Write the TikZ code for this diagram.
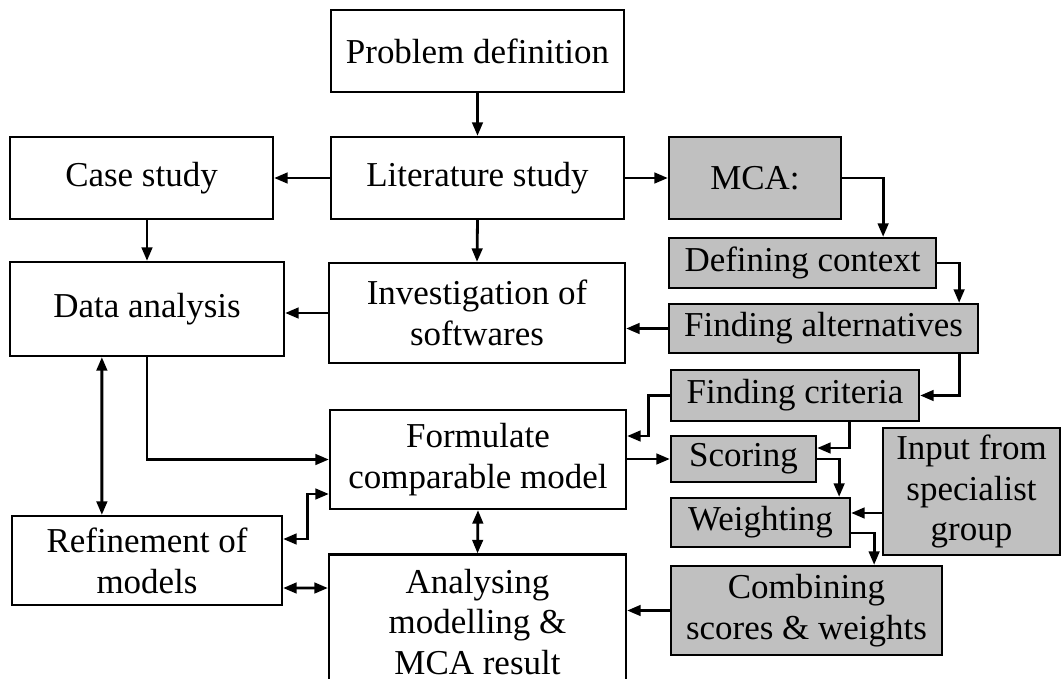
\documentclass[tikz,border=0pt]{standalone}
\usepackage{fontspec}
\setmainfont{Liberation Serif}
\usepackage{xcolor}
\usetikzlibrary{arrows.meta}
\definecolor{boxgrey}{HTML}{C0C0C0}
\tikzset{
  box/.style={draw=black, line width=1.3pt, inner sep=0pt, align=center,
    font=\fontsize{19.9}{23.3}\selectfont},
  greybox/.style={box, fill=boxgrey},
  arr/.style={draw=black, line width=1.6pt, -{Triangle[length=2.7mm,width=2.1mm]}},
  dbl/.style={arr, {Triangle[length=2.7mm,width=2.1mm]}-{Triangle[length=2.7mm,width=2.1mm]}},
}
\begin{document}
\begin{tikzpicture}[x=0.02cm,y=-0.02cm]
  \useasboundingbox (0,0) rectangle (1061,679);

  % left and middle column
  \node[box, minimum width=5.86cm, minimum height=1.64cm] (prob) at (477.5,51) {Problem definition};
  \node[box, minimum width=5.86cm, minimum height=1.64cm] (lit) at (477.5,178) {Literature study};
  \node[box, minimum width=5.26cm, minimum height=1.64cm] (case) at (141.5,178) {Case study};
  \node[box, minimum width=5.48cm, minimum height=1.88cm] (data) at (147,309) {Data analysis};
  \node[box, minimum width=5.92cm, minimum height=2.00cm] (inv) at (477,313) {Investigation of\\softwares};
  \node[box, minimum width=5.92cm, minimum height=1.98cm] (form) at (478,459.5) {Formulate\\comparable model};
  \node[box, minimum width=5.40cm, minimum height=1.78cm] (refi) at (147,560.5) {Refinement of\\models};
  \node[box, minimum width=5.94cm, minimum height=2.70cm] (ana) at (477.5,622) {Analysing\\modelling \&\\MCA result};

  % MCA column
  \node[greybox, minimum width=3.44cm, minimum height=1.64cm] (mca) at (755,178) {MCA:};
  \node[greybox, minimum width=5.34cm, minimum height=1.00cm] (def) at (802.5,263) {Defining context};
  \node[greybox, minimum width=6.18cm, minimum height=0.98cm] (alt) at (823.5,328.5) {Finding alternatives};
  \node[greybox, minimum width=4.96cm, minimum height=1.02cm] (crit) at (795,395.5) {Finding criteria};
  \node[greybox, minimum width=2.90cm, minimum height=0.92cm] (scor) at (743.5,459) {Scoring};
  \node[greybox, minimum width=3.58cm, minimum height=0.98cm] (weig) at (760.5,522.5) {Weighting};
  \node[greybox, minimum width=3.54cm, minimum height=2.54cm] (inp) at (971.5,491.5) {Input from\\specialist\\group};
  \node[greybox, minimum width=5.42cm, minimum height=1.78cm] (comb) at (806.5,610.5) {Combining\\scores \& weights};

  \coordinate (wIn) at ([yshift=0.19cm]weig.east);

  % main flow
  \draw[arr] (prob.south) -- (lit.north);
  \draw[arr] (lit.west) -- (case.east);
  \draw[arr] (lit.east) -- (mca.west);
  \draw[arr] (lit.south) -- (inv.north);
  \draw[arr] (case.south -| data.north) -- (data.north);
  \draw[arr] (inv.west) -- (inv.west -| data.east);
  \draw[arr] (data.south) |- (form.west);
  \draw[dbl] ([xshift=1.86cm]data.south west) -- ([xshift=1.82cm]refi.north west);
  \draw[dbl] ([yshift=0.43cm]refi.east) -- ++(24,0) |- ([yshift=-0.69cm]form.west);
  \draw[dbl] ([yshift=-0.55cm]refi.east) -- ([yshift=0.68cm]ana.west);
  \draw[dbl] (form.south) -- (ana.north);

  % MCA steps
  \draw[arr] (mca.east) -| ([xshift=-1.08cm]def.north east);
  \draw[arr] (def.east) -| ([xshift=-0.4cm]alt.north east);
  \draw[arr] (alt.west) -- (alt.west -| inv.east);
  \draw[arr] ([xshift=-0.4cm]alt.south east) |- (crit.east);
  \draw[arr] (crit.west) -- ++(-21,0) |- ([yshift=0.47cm]form.east);
  \draw[arr] ([xshift=-1.42cm]crit.south east) |- ([yshift=0.22cm]scor.east);
  \draw[arr] (form.east |- scor.west) -- (scor.west);
  \draw[arr] (scor.east) -| ([xshift=-0.24cm]weig.north east);
  \draw[arr] (inp.west |- wIn) -- (wIn);
  \draw[arr] ([yshift=-0.21cm]weig.east) -| ([xshift=-1.38cm]comb.north east);
  \draw[arr] (comb.west) -- (comb.west -| ana.east);
\end{tikzpicture}
\end{document}
